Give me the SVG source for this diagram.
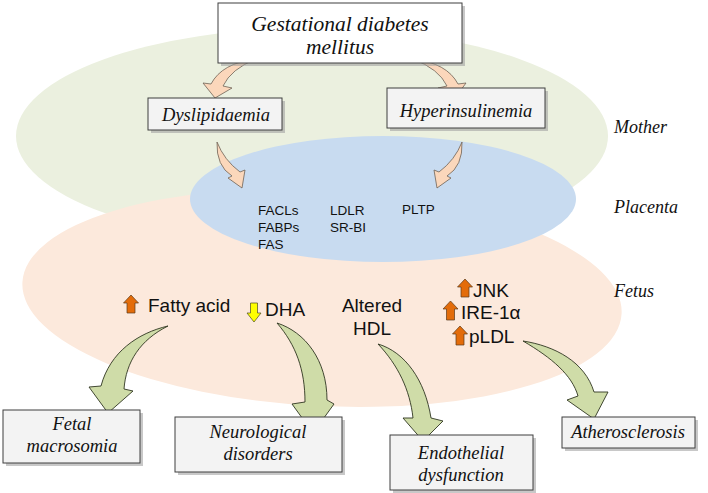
<svg xmlns="http://www.w3.org/2000/svg" width="708" height="493" viewBox="0 0 708 493">
<defs>
<style>
.box{stroke:#3f3f3f;stroke-width:1;}
.shadow{fill:#9a9a9a;opacity:0.55;}
.ti{font-family:"Liberation Serif",serif;font-style:italic;fill:#111;text-anchor:middle;}
.side{font-family:"Liberation Serif",serif;font-style:italic;fill:#111;font-size:18px;}
.sa{font-family:"Liberation Sans",Arial,sans-serif;fill:#111;}
.pa{fill:#fbd7bb;stroke:#6f6256;stroke-width:0.8;}
.ga{fill:#cfdca8;stroke:#2f3520;stroke-width:0.9;}
.up{fill:#e36c0a;stroke:#5a3a1a;stroke-width:0.7;}
.dn{fill:#ffff00;stroke:#4a4a20;stroke-width:0.7;}
</style>
</defs>
<rect width="708" height="493" fill="#ffffff"/>
<g id="regions">
<ellipse cx="312" cy="136" rx="296" ry="108" fill="#ebf0df"/>
<ellipse cx="322" cy="298" rx="300" ry="108" fill="#fce9dc" transform="rotate(3 322 298)"/>
<ellipse cx="383" cy="199" rx="193" ry="63" fill="#c8dbf0"/>
</g>
<g id="side-labels">
<text class="side" x="614" y="133">Mother</text>
<text class="side" x="614" y="213">Placenta</text>
<text class="side" x="614" y="297">Fetus</text>
</g>
<g id="connectors">
<path class="pa" d="M256,59 Q222,63 211,84 L203,83 L215,98 L232,88 L223,86 Q231,69 256,59 Z"/>
<path class="pa" d="M413,59 Q447,63 458,84 L466,83 L455,98 L438,88 L447,86 Q439,69 413,59 Z"/>
<path class="pa" d="M217,142 Q216,166 232,176 L228,178 L242,188 L245,170 L240,172 Q224,160 217,142 Z"/>
<path class="pa" d="M462,142 Q463,166 447,176 L451,178 L437,188 L434,170 L439,172 Q455,160 462,142 Z"/>
<path class="ga" d="M168,326 C138,333 110,352 101,386 L89,387 L108,413 L133,391 L124,389 C126,362 140,340 168,326 Z"/>
<path class="ga" d="M277,323 C305,332 327,360 327,400 L334,404 L313,433 L292,404 L305,402 C305,370 296,345 277,323 Z"/>
<path class="ga" d="M378,344 C405,352 425,380 431,418 L443,421 L423,441 L403,418 L413,418 C410,390 398,365 378,344 Z"/>
<path class="ga" d="M523,341 C555,346 585,362 594,392 L608,392 L594,419 L567,400 L578,396 C572,375 552,358 523,341 Z"/>
</g>
<g id="gdm">
<rect class="shadow" x="221" y="6" width="244" height="60"/>
<rect class="box" x="218" y="3" width="244" height="60" fill="#ffffff"/>
<text class="ti" x="340" y="31" font-size="21.5">Gestational diabetes</text>
<text class="ti" x="340" y="54" font-size="21.5">mellitus</text>
</g>
<g id="dyslipidaemia">
<rect class="shadow" x="151" y="101" width="134" height="32"/>
<rect class="box" x="148" y="98" width="134" height="32" fill="#f3f3f3"/>
<text class="ti" x="216" y="121" font-size="18.5">Dyslipidaemia</text>
</g>
<g id="hyperinsulinemia">
<rect class="shadow" x="390" y="91" width="158" height="40"/>
<rect class="box" x="387" y="88" width="158" height="40" fill="#f3f3f3"/>
<text class="ti" x="466" y="117" font-size="18.5">Hyperinsulinemia</text>
</g>
<g id="placenta-text">
<text class="sa" font-size="13.5" x="258" y="215">FACLs</text>
<text class="sa" font-size="13.5" x="258" y="232">FABPs</text>
<text class="sa" font-size="13.5" x="258" y="249">FAS</text>
<text class="sa" font-size="13.5" x="330" y="215">LDLR</text>
<text class="sa" font-size="13.5" x="330" y="232">SR-BI</text>
<text class="sa" font-size="13.5" x="402" y="214">PLTP</text>
</g>
<g id="fatty-acid">
<path class="up" d="M131,295 L138.5,303 L135,303 L135,313 L127,313 L127,303 L123.5,303 Z"/>
<text class="sa" font-size="19" x="148" y="312">Fatty acid</text>
</g>
<g id="dha">
<path class="dn" d="M250.5,303 L257.5,303 L257.5,313 L261,313 L254,322 L247,313 L250.5,313 Z"/>
<text class="sa" font-size="19" x="265" y="316">DHA</text>
</g>
<g id="altered-hdl">
<text class="sa" font-size="19" x="372" y="312" text-anchor="middle">Altered</text>
<text class="sa" font-size="19" x="372" y="335" text-anchor="middle">HDL</text>
</g>
<g id="stress-markers">
<path class="up" d="M465,279 L472.5,287 L469,287 L469,297 L461,297 L461,287 L457.5,287 Z"/>
<text class="sa" font-size="19" x="473" y="297">JNK</text>
<path class="up" d="M450.5,301 L458,309 L454.5,309 L454.5,320 L446.5,320 L446.5,309 L443,309 Z"/>
<text class="sa" font-size="19" x="461" y="319">IRE-1α</text>
<path class="up" d="M460,326 L467.5,334 L464,334 L464,345 L456,345 L456,334 L452.5,334 Z"/>
<text class="sa" font-size="19" x="469" y="343">pLDL</text>
</g>
<g id="fetal-macrosomia">
<rect class="shadow" x="6" y="413" width="137" height="53"/>
<rect class="box" x="3" y="410" width="137" height="53" fill="#f3f3f3"/>
<text class="ti" x="72" y="430" font-size="18.5">Fetal</text>
<text class="ti" x="72" y="452" font-size="18.5">macrosomia</text>
</g>
<g id="neurological-disorders">
<rect class="shadow" x="178" y="420" width="167" height="55"/>
<rect class="box" x="175" y="417" width="167" height="55" fill="#f3f3f3"/>
<text class="ti" x="258" y="438" font-size="18.5">Neurological</text>
<text class="ti" x="258" y="460" font-size="18.5">disorders</text>
</g>
<g id="endothelial-dysfunction">
<rect class="shadow" x="393" y="438" width="143" height="55"/>
<rect class="box" x="390" y="435" width="143" height="55" fill="#f3f3f3"/>
<text class="ti" x="461" y="459" font-size="18.5">Endothelial</text>
<text class="ti" x="461" y="481" font-size="18.5">dysfunction</text>
</g>
<g id="atherosclerosis">
<rect class="shadow" x="565" y="420" width="133" height="31"/>
<rect class="box" x="562" y="417" width="133" height="31" fill="#f3f3f3"/>
<text class="ti" x="628" y="438" font-size="18.5">Atherosclerosis</text>
</g>
</svg>
